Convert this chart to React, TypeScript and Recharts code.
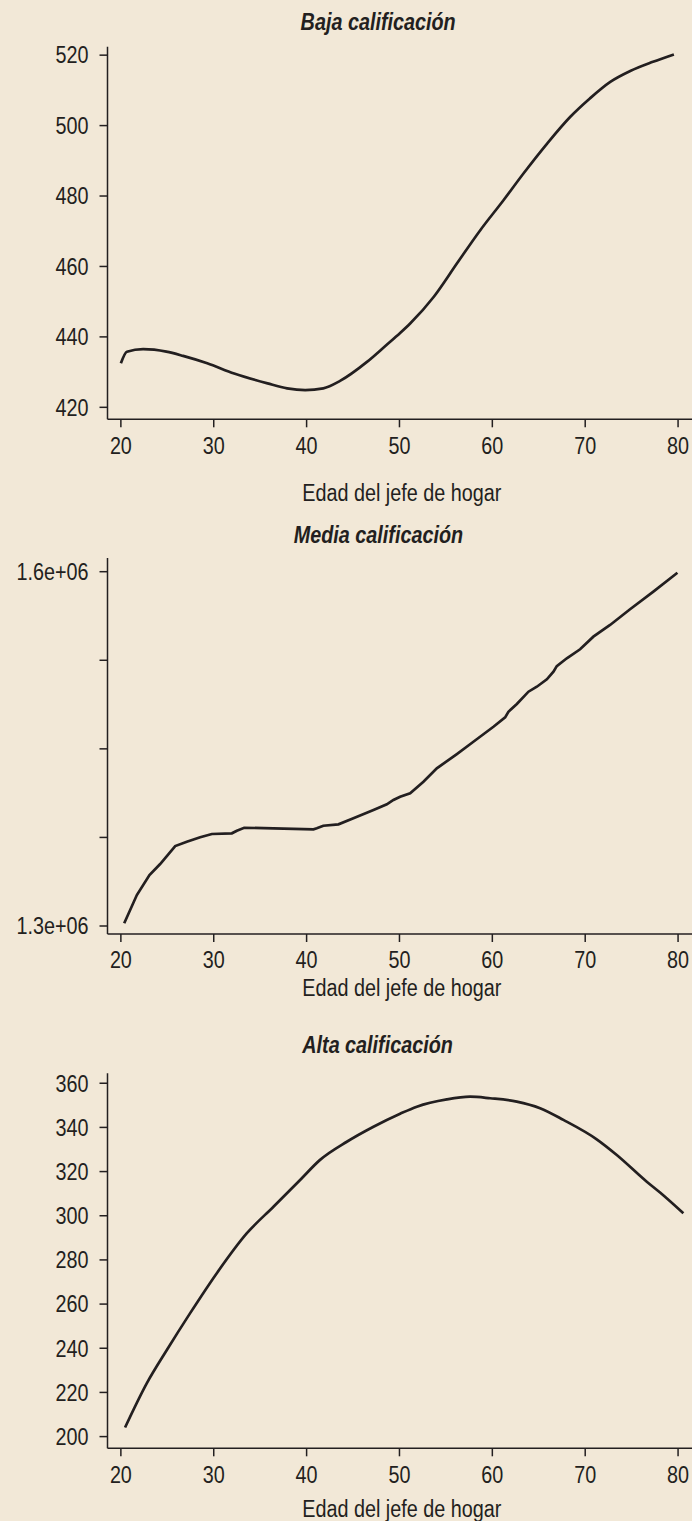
import { LineChart, Line, XAxis, YAxis } from "recharts";

// Edad del jefe de hogar (años) y valores
const bajaEdad = [20.0, 20.65, 22.4, 24.9, 26.7, 29.3, 32.2, 35.8, 37.9, 39.85, 41.8, 43.6, 46.5, 48.6, 50.07, 51.15, 53.7, 56.2, 58.7, 61.2, 63.35, 65.9, 68.4, 70.5, 72.7, 74.85, 77.3, 79.55];
const bajaValor = [432.5, 435.8, 436.5, 435.8, 434.6, 432.5, 429.6, 426.8, 425.4, 424.9, 425.4, 427.5, 432.9, 437.7, 441.1, 443.8, 451.4, 460.9, 470.3, 478.8, 486.4, 494.9, 502.5, 507.7, 512.4, 515.5, 518.1, 520.2];

const mediaEdad = [20.36, 21.72, 23.08, 24.23, 25.85, 27.1, 28.54, 29.8, 31.95, 32.49, 33.28, 36.43, 40.74, 41.1, 41.8, 43.43, 45.04, 47.2, 48.64, 49.35, 50.07, 51.15, 52.58, 54.02, 56.18, 57.96, 60.12, 61.38, 61.73, 62.64, 63.89, 64.79, 65.87, 66.58, 66.94, 68.02, 69.45, 70.88, 72.68, 74.83, 77.34, 79.93];
const mediaValor = [1302300, 1326200, 1343200, 1352500, 1367700, 1371400, 1375100, 1377900, 1378500, 1380700, 1383200, 1382700, 1381900, 1382700, 1384900, 1386100, 1391200, 1398200, 1403000, 1406700, 1409500, 1412400, 1422200, 1433500, 1445600, 1456000, 1468700, 1476700, 1481400, 1488000, 1498400, 1502600, 1508900, 1515300, 1520100, 1526700, 1534300, 1545000, 1554900, 1568200, 1583100, 1599100];

const altaEdad = [20.45, 22.8, 24.95, 27.46, 30.33, 33.57, 36.43, 39.3, 41.45, 44.33, 47.2, 50.07, 51.87, 55.1, 57.6, 59.76, 62.63, 65.14, 67.65, 71.24, 73.4, 76.63, 78.06, 80.57];
const altaValor = [204.1, 224.2, 239.2, 255.9, 274.0, 292.1, 304.1, 316.2, 325.3, 333.5, 340.3, 346.2, 349.4, 352.7, 353.9, 353.2, 351.7, 348.7, 343.4, 334.6, 327.5, 315.4, 310.5, 301.1];

const edadTicks = [20, 30, 40, 50, 60, 70, 80];
const bajaTicks = [420, 440, 460, 480, 500, 520];
const mediaTicks = [1300000, 1375000, 1450000, 1525000, 1600000];
const altaTicks = [200, 220, 240, 260, 280, 300, 320, 340, 360];

const BG = "#f2e8d7";
const INK = "#231f20";
const FONT = "'Liberation Sans', Arial, Helvetica, sans-serif";
const FS = 23;
const SQUEEZE = 0.86; // the original uses a condensed face

const toRows = (x: number[], y: number[]) => x.map((edad, i) => ({ edad, valor: y[i] }));

function CondTick(props: any) {
  const { x, y, payload, anchor, dy, fmt } = props;
  const label = fmt ? fmt(payload.value) : String(payload.value);
  return (
    <text
      transform={`translate(${x},${y}) scale(${SQUEEZE},1)`}
      textAnchor={anchor}
      dy={dy}
      fill={INK}
      fontSize={FS}
      fontFamily={FONT}
    >
      {label}
    </text>
  );
}

function Caption({ cx, cy, text, bold }: { cx: number; cy: number; text: string; bold?: boolean }) {
  return (
    <div
      style={{
        position: "absolute",
        left: cx - 200,
        width: 400,
        top: cy - FS / 2,
        height: FS,
        lineHeight: `${FS}px`,
        textAlign: "center",
        fontFamily: FONT,
        fontSize: FS,
        fontWeight: bold ? "bold" : "normal",
        fontStyle: bold ? "italic" : "normal",
        color: INK,
        whiteSpace: "nowrap",
      }}
    >
      <span style={{ display: "inline-block", transform: `scaleX(${SQUEEZE})` }}>{text}</span>
    </div>
  );
}

type PanelProps = {
  top: number;
  height: number;
  plotTop: number;
  plotBottom: number;
  title: string;
  titleY: number;
  axisTitleY: number;
  data: { edad: number; valor: number }[];
  yDomain: [number, number];
  yTicks: number[];
  yFormat?: (v: number) => string;
  curve: "monotone" | "linear";
};

function Panel(p: PanelProps) {
  const xAxisH = 40;
  const marginBottom = p.height - (p.plotBottom - p.top) - xAxisH;
  const line = { stroke: INK, strokeWidth: 1.5 };
  return (
    <>
      <Caption cx={378} cy={p.titleY} text={p.title} bold />
      <div style={{ position: "absolute", left: 0, top: p.top }}>
        <LineChart
          width={692}
          height={p.height}
          data={p.data}
          margin={{ top: p.plotTop - p.top, right: 0, bottom: marginBottom, left: 0 }}
        >
          <XAxis
            type="number"
            dataKey="edad"
            domain={[18.56, 81.5]}
            ticks={edadTicks}
            allowDataOverflow
            height={xAxisH}
            tick={(t: any) => <CondTick {...t} anchor="middle" dy="0.71em" />}
            tickSize={8}
            tickMargin={10}
            tickLine={line}
            axisLine={line}
            interval={0}
          />
          <YAxis
            type="number"
            dataKey="valor"
            domain={p.yDomain}
            ticks={p.yTicks}
            allowDataOverflow
            width={107.5}
            tick={(t: any) => <CondTick {...t} anchor="end" dy="0.36em" fmt={p.yFormat} />}
            tickSize={8}
            tickMargin={11}
            tickLine={line}
            axisLine={line}
            interval={0}
          />
          <Line
            type={p.curve}
            dataKey="valor"
            stroke={INK}
            strokeWidth={2.7}
            dot={false}
            isAnimationActive={false}
          />
        </LineChart>
      </div>
      <Caption cx={402} cy={p.axisTitleY} text="Edad del jefe de hogar" />
    </>
  );
}

const mediaFormat = (v: number) => (v === 1600000 ? "1.6e+06" : v === 1300000 ? "1.3e+06" : "");

export default function App() {
  return (
    <div
      style={{
        position: "absolute",
        top: 0,
        left: 0,
        width: 692,
        height: 1521,
        background: BG,
        overflow: "hidden",
      }}
    >
      <Panel
        top={0}
        height={505}
        plotTop={46.7}
        plotBottom={419.3}
        title="Baja calificación"
        titleY={22}
        axisTitleY={493}
        data={toRows(bajaEdad, bajaValor)}
        yDomain={[416.6, 522.4]}
        yTicks={bajaTicks}
        curve="monotone"
      />
      <Panel
        top={505}
        height={500}
        plotTop={558}
        plotBottom={934}
        title="Media calificación"
        titleY={535}
        axisTitleY={988}
        data={toRows(mediaEdad, mediaValor)}
        yDomain={[1293230, 1611600]}
        yTicks={mediaTicks}
        yFormat={mediaFormat}
        curve="linear"
      />
      <Panel
        top={1005}
        height={516}
        plotTop={1073.3}
        plotBottom={1448.3}
        title="Alta calificación"
        titleY={1045}
        axisTitleY={1509}
        data={toRows(altaEdad, altaValor)}
        yDomain={[194.7, 364.5]}
        yTicks={altaTicks}
        curve="monotone"
      />
    </div>
  );
}
